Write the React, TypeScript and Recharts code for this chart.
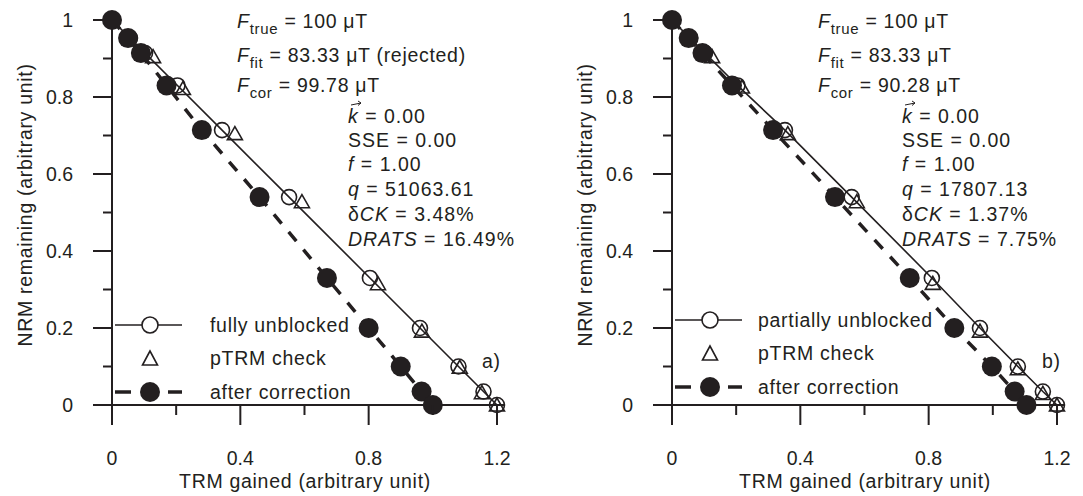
import { ScatterChart, Scatter, XAxis, YAxis } from "recharts";

// NRM remaining at each step (same for both panels)
const nrm = [1, 0.953, 0.914, 0.83, 0.714, 0.54, 0.33, 0.2, 0.1, 0.035, 0];

// panel a) fully unblocked
const trmA = [0, 0.056, 0.103, 0.204, 0.343, 0.552, 0.804, 0.96, 1.08, 1.158, 1.2];
const trmCorA = [0, 0.05, 0.09, 0.17, 0.28, 0.46, 0.67, 0.8, 0.9, 0.965, 1.0];
const checkTrmA = [0.128, 0.221, 0.383, 0.592, 0.829, 0.966, 1.084, 1.153, 1.2];
const checkNrmA = [0.905, 0.822, 0.705, 0.528, 0.315, 0.192, 0.098, 0.032, 0];

// panel b) partially unblocked
const trmB = [0, 0.056, 0.103, 0.204, 0.352, 0.56, 0.81, 0.96, 1.078, 1.156, 1.2];
const trmCorB = [0, 0.052, 0.095, 0.187, 0.315, 0.508, 0.741, 0.88, 0.997, 1.068, 1.105];
const checkTrmB = [0.125, 0.218, 0.361, 0.576, 0.813, 0.96, 1.078, 1.156, 1.2];
const checkNrmB = [0.905, 0.826, 0.705, 0.528, 0.316, 0.192, 0.094, 0.03, 0];

const xTicks = [0, 0.2, 0.4, 0.6, 0.8, 1.0, 1.2];
const xMajor = [0, 0.4, 0.8, 1.2];
const yTicks = [0, 0.1, 0.2, 0.3, 0.4, 0.5, 0.6, 0.7, 0.8, 0.9, 1];
const yMajor = [0, 0.2, 0.4, 0.6, 0.8, 1];

const INK = "#231f20";
const FONT = "'Liberation Sans', Arial, sans-serif";

const pts = (xs: number[], ys: number[]) => xs.map((x, i) => ({ x, y: ys[i] }));

const XTick = ({ x, y, payload }: any) => {
  const major = xMajor.includes(payload.value);
  return (
    <g>
      <line x1={x} x2={x} y1={y} y2={y + (major ? 20 : 10)} stroke={INK} strokeWidth={2} />
      {major && (
        <text x={x} y={y + 60} textAnchor="middle" fontSize={19.5} fill={INK} fontFamily={FONT}>
          {String(payload.value)}
        </text>
      )}
    </g>
  );
};

const YTick = ({ x, y, payload }: any) => {
  const major = yMajor.includes(payload.value);
  return (
    <g>
      <line x1={x - (major ? 19 : 9)} x2={x} y1={y} y2={y} stroke={INK} strokeWidth={2} />
      {major && (
        <text x={x - 39} y={y + 7} textAnchor="end" fontSize={19.5} fill={INK} fontFamily={FONT}>
          {String(payload.value)}
        </text>
      )}
    </g>
  );
};

const OpenCircle = (p: any) => (
  <circle cx={p.cx} cy={p.cy} r={7.5} fill="none" stroke={INK} strokeWidth={1.6} />
);
const FilledCircle = (p: any) => <circle cx={p.cx} cy={p.cy} r={10} fill={INK} />;
const Triangle = (p: any) => (
  <polygon
    points={`${p.cx},${p.cy - 7} ${p.cx - 7.5},${p.cy + 6} ${p.cx + 7.5},${p.cy + 6}`}
    fill="none"
    stroke={INK}
    strokeWidth={1.6}
  />
);

interface Stats {
  ffit: string;
  fcor: string;
  q: string;
  dck: string;
  drats: string;
}

interface PanelProps {
  trm: number[];
  trmCor: number[];
  checkTrm: number[];
  checkNrm: number[];
  stats: Stats;
  legendName: string;
  tag: string;
  fx: number;
  kx: number;
  lx: number;
  ly: number[];
}

function Panel({ trm, trmCor, checkTrm, checkNrm, stats, legendName, tag, fx, kx, lx, ly }: PanelProps) {
  const rows = [
    { y: 123, body: <><tspan fontStyle="italic">k</tspan> = 0.00</> },
    { y: 147, body: <>SSE = 0.00</> },
    { y: 171, body: <><tspan fontStyle="italic">f</tspan> = 1.00</> },
    { y: 196, body: <><tspan fontStyle="italic">q</tspan> = {stats.q}</> },
    { y: 221, body: <>δ<tspan fontStyle="italic">CK</tspan> = {stats.dck}</> },
    { y: 246, body: <><tspan fontStyle="italic">DRATS</tspan> = {stats.drats}</> },
  ];
  const [r1, r2, r3] = ly;
  return (
    <div style={{ position: "relative", width: 523, height: 496 }}>
      <ScatterChart width={523} height={496} margin={{ top: 20, right: 18, bottom: 0, left: 0 }}>
        <XAxis
          type="number"
          dataKey="x"
          domain={[0, 1.225]}
          ticks={xTicks}
          tick={<XTick />}
          tickLine={false}
          tickSize={0}
          tickMargin={0}
          height={91}
          axisLine={{ stroke: INK, strokeWidth: 2 }}
        />
        <YAxis
          type="number"
          dataKey="y"
          domain={[0, 1]}
          ticks={yTicks}
          tick={<YTick />}
          tickLine={false}
          tickSize={0}
          tickMargin={0}
          width={112}
          axisLine={{ stroke: INK, strokeWidth: 2 }}
        />
        <Scatter
          data={pts(trm, nrm)}
          shape={OpenCircle}
          line={{ stroke: INK, strokeWidth: 1.6 }}
          isAnimationActive={false}
        />
        <Scatter data={pts(checkTrm, checkNrm)} shape={Triangle} isAnimationActive={false} />
        <Scatter
          data={pts(trmCor, nrm)}
          shape={FilledCircle}
          line={{ stroke: INK, strokeWidth: 3.5, strokeDasharray: "12 11" }}
          isAnimationActive={false}
        />
      </ScatterChart>
      <svg
        width={523}
        height={496}
        style={{ position: "absolute", left: 0, top: 0, pointerEvents: "none" }}
        fontFamily={FONT}
        fontSize={19.5}
        fill={INK}
      >
        <g letterSpacing={0.7}>
          <text x={fx} y={28}>
            <tspan fontStyle="italic">F</tspan>
            <tspan fontSize={15} dy={6}>true</tspan>
            <tspan dy={-6}> = 100 μT</tspan>
          </text>
          <text x={fx} y={62}>
            <tspan fontStyle="italic">F</tspan>
            <tspan fontSize={15} dy={6}>fit</tspan>
            <tspan dy={-6}> = {stats.ffit}</tspan>
          </text>
          <text x={fx} y={92}>
            <tspan fontStyle="italic">F</tspan>
            <tspan fontSize={15} dy={6}>cor</tspan>
            <tspan dy={-6}> = {stats.fcor} μT</tspan>
          </text>
        </g>
        <g letterSpacing={1}>
          {rows.map((r, i) => (
            <text key={i} x={kx} y={r.y}>
              {r.body}
            </text>
          ))}
        </g>
        {/* vector arrow over k */}
        <path
          d={`M${kx + 3} 105 L${kx + 13} 103 M${kx + 10} 101 L${kx + 13} 103 L${kx + 10} 105.5`}
          stroke={INK}
          strokeWidth={1}
          fill="none"
        />

        <g letterSpacing={0.7}>
          <text x={-205} y={32} transform="rotate(-90)" textAnchor="middle">
            NRM remaining (arbitrary unit)
          </text>
          <text x={305} y={488} textAnchor="middle">
            TRM gained (arbitrary unit)
          </text>
          <text x={lx} y={r1 + 7}>{legendName}</text>
          <text x={lx} y={r2 + 7}>pTRM check</text>
          <text x={lx} y={r3 + 7}>after correction</text>
          <text x={482} y={368}>{tag}</text>
        </g>

        <line x1={115} x2={182} y1={r1} y2={r1} stroke={INK} strokeWidth={1.6} />
        <circle cx={150} cy={r1} r={8} fill="#fff" stroke={INK} strokeWidth={1.6} />
        <polygon
          points={`150,${r2 - 7} 142.5,${r2 + 7} 157.5,${r2 + 7}`}
          fill="none"
          stroke={INK}
          strokeWidth={1.6}
        />
        <line x1={115} x2={131} y1={r3} y2={r3} stroke={INK} strokeWidth={3.5} />
        <line x1={168} x2={182} y1={r3} y2={r3} stroke={INK} strokeWidth={3.5} />
        <circle cx={150} cy={r3} r={10} fill={INK} />
      </svg>
    </div>
  );
}

export default function App() {
  return (
    <div style={{ position: "absolute", left: 0, top: 0, width: 1083, height: 496, background: "#fff" }}>
      <div style={{ position: "absolute", left: 0, top: 0 }}>
        <Panel
          trm={trmA}
          trmCor={trmCorA}
          checkTrm={checkTrmA}
          checkNrm={checkNrmA}
          stats={{ ffit: "83.33 μT (rejected)", fcor: "99.78", q: "51063.61", dck: "3.48%", drats: "16.49%" }}
          legendName="fully unblocked"
          tag="a)"
          fx={237}
          kx={348}
          lx={210}
          ly={[325, 358, 392]}
        />
      </div>
      <div style={{ position: "absolute", left: 560, top: 0 }}>
        <Panel
          trm={trmB}
          trmCor={trmCorB}
          checkTrm={checkTrmB}
          checkNrm={checkNrmB}
          stats={{ ffit: "83.33 μT", fcor: "90.28", q: "17807.13", dck: "1.37%", drats: "7.75%" }}
          legendName="partially unblocked"
          tag="b)"
          fx={258}
          kx={342}
          lx={198}
          ly={[320, 353, 387]}
        />
      </div>
    </div>
  );
}
